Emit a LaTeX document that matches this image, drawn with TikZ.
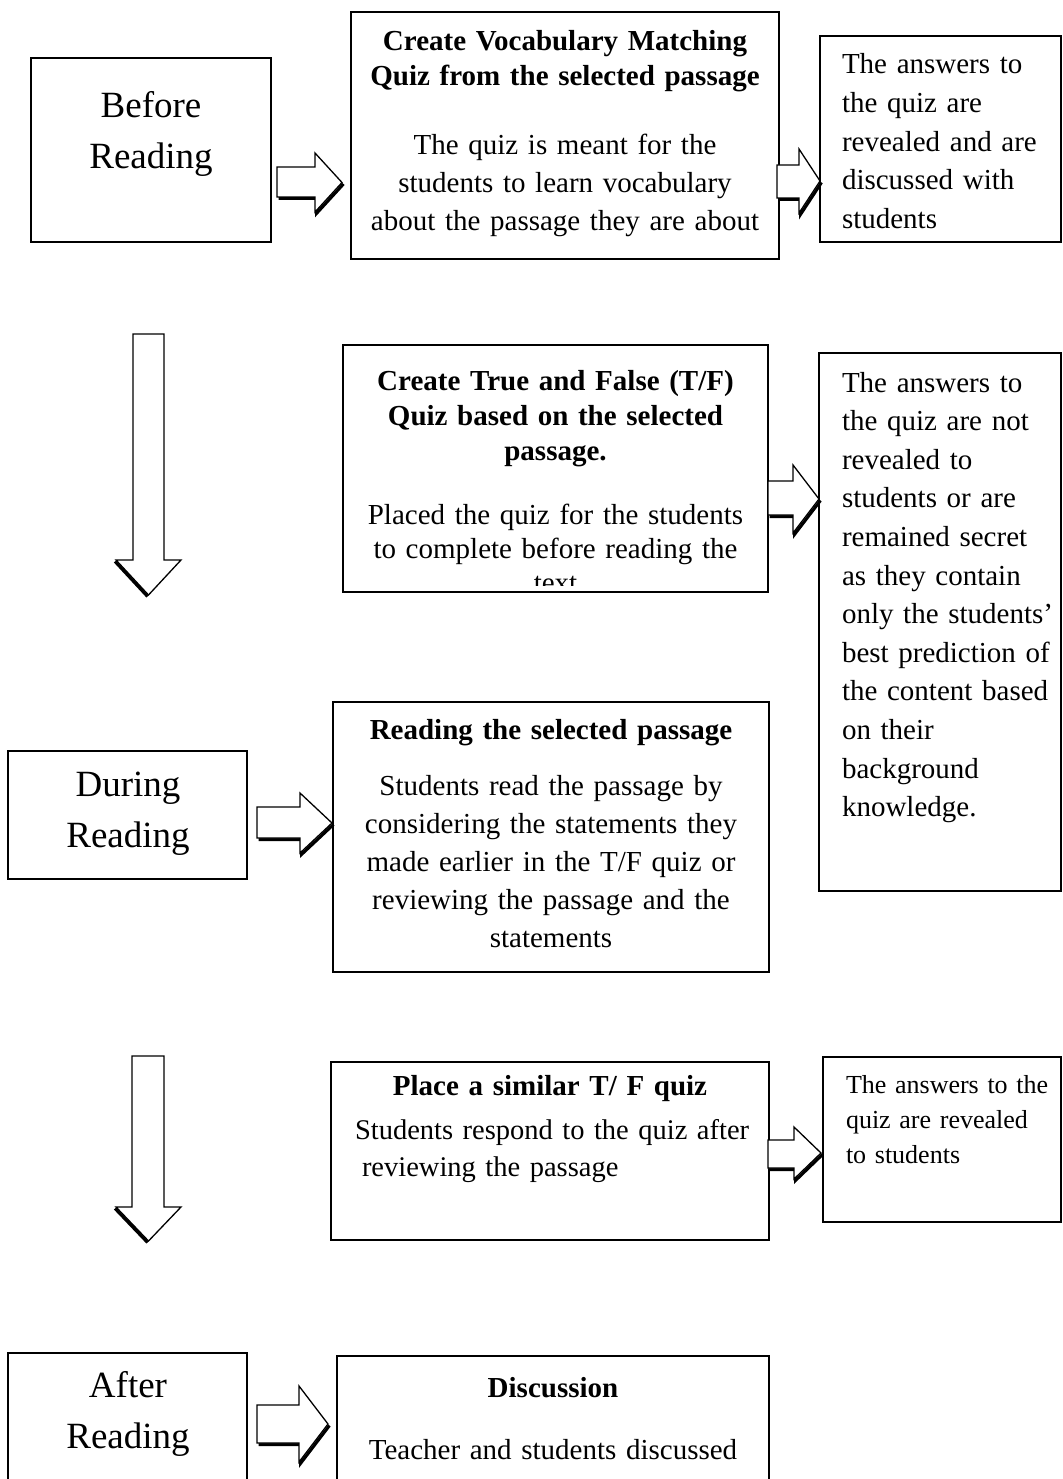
\documentclass[tikz,border=0pt]{standalone}
\usepackage{fontspec}
\setmainfont{Liberation Serif}
\tikzset{
  box/.style={draw, line width=1.6pt, inner sep=0pt, outer sep=0pt},
  ctxt/.style={inner sep=0pt, outer sep=0pt, align=center, anchor=base, font=\fontsize{29pt}{38pt}\selectfont},
  ltxt/.style={inner sep=0pt, outer sep=0pt, align=left, anchor=base west, font=\fontsize{29pt}{38.6pt}\selectfont},
  bigtxt/.style={inner sep=0pt, outer sep=0pt, align=center, anchor=base, font=\fontsize{37pt}{51pt}\selectfont},
  bld/.style={font=\fontsize{29pt}{35pt}\selectfont\bfseries},
  arrline/.style={line width=1.3pt, fill=white, line join=miter},
  shadowline/.style={line width=3pt}
}
% right block arrow: x0 x1 xtip yshaftTop yshaftBot yheadTop yheadBot
\newcommand\rblock[7]{%
  \pgfmathsetmacro\ymidarr{(#6+#7)/2}
  \draw[shadowline, shift={(1.5,1.5)}] (#1,#5) -- (#2,#5) -- (#2,#7) -- (#3,\ymidarr);
  \draw[arrline] (#1,#4) -- (#2,#4) -- (#2,#6) -- (#3,\ymidarr) -- (#2,#7) -- (#2,#5) -- (#1,#5) -- cycle;
}
% down block arrow: xl xr xhl xhr ytop yheadstart ytip
\newcommand\dblock[7]{%
  \pgfmathsetmacro\xmidarr{(#3+#4)/2}
  \draw[shadowline, shift={(-1,1.5)}] (#3,#6) -- (\xmidarr,#7);
  \draw[arrline] (#1,#5) -- (#2,#5) -- (#2,#6) -- (#4,#6) -- (\xmidarr,#7) -- (#3,#6) -- (#1,#6) -- cycle;
}
\begin{document}
\begin{tikzpicture}[x=1pt, y=-1pt]
\clip (0,0) rectangle (1062,1479);
\fill[white] (0,0) rectangle (1062,1479);

% ---------- boxes ----------
\node[box, minimum width=240pt, minimum height=184pt] (before) at (151,150) {};
\node[box, minimum width=428pt, minimum height=247pt] (vocab) at (565,135.5) {};
\node[box, minimum width=241pt, minimum height=206pt] (ans1) at (940.5,139) {};
\node[box, minimum width=242pt, minimum height=538pt] (ans2) at (940,622) {};
\node[box, minimum width=239pt, minimum height=128pt] (during) at (127.5,815) {};
\node[box, minimum width=436pt, minimum height=270pt] (read) at (551,837) {};
\node[box, minimum width=438pt, minimum height=178pt] (place) at (550,1151) {};
\node[box, minimum width=238pt, minimum height=165pt] (ans3) at (942,1139.5) {};
\node[box, minimum width=239pt, minimum height=140pt] (after) at (127.5,1423) {};
\node[box, minimum width=432pt, minimum height=140pt] (disc) at (553,1426) {};

% T/F box with clipped text
\begin{scope}
  \clip (343,345) rectangle (768,585);
  \node[ctxt, bld, text width=420pt] (tfh) at (555.5,390) {Create True and False (T/F)\\Quiz based on the selected\\passage.};
  \node[ctxt, text width=420pt, font=\fontsize{29pt}{34pt}\selectfont] (tfb) at (555.5,524) {Placed the quiz for the students\\to complete before reading the\\text};
\end{scope}
\node[box, minimum width=425pt, minimum height=247pt] (tf) at (555.5,468.5) {};

% ---------- texts ----------
\node[bigtxt, text width=230pt] (beforet) at (151,118) {Before\\Reading};
\node[ctxt, bld, text width=420pt] (vocabh) at (565,51) {Create Vocabulary Matching\\Quiz from the selected passage};
\node[ctxt, text width=420pt] (vocabb) at (565,155) {The quiz is meant for the\\students to learn vocabulary\\about the passage they are about};
\node[ltxt, text width=215pt] (ans1t) at (842,74) {The answers to\\the quiz are\\revealed and are\\discussed with\\students};
\node[ltxt, text width=215pt] (ans2t) at (842,392) {The answers to\\the quiz are not\\revealed to\\students or are\\remained secret\\as they contain\\only the students’\\best prediction of\\the content based\\on their\\background\\knowledge.};
\node[bigtxt, text width=230pt] (duringt) at (128,796) {During\\Reading};
\node[ctxt, bld, text width=430pt] (readh) at (551,739) {Reading the selected passage};
\node[ctxt, text width=430pt] (readb) at (551,795) {Students read the passage by\\considering the statements they\\made earlier in the T/F quiz or\\reviewing the passage and the\\statements};
\node[ctxt, bld, text width=430pt] (placeh) at (550,1095) {Place a similar T/ F quiz};
\node[ltxt, text width=420pt, font=\fontsize{28.5pt}{37pt}\selectfont] (placeb1) at (355,1139) {Students respond to the quiz after};
\node[ltxt, text width=420pt, font=\fontsize{28.5pt}{37pt}\selectfont] (placeb2) at (362,1176) {reviewing the passage};
\node[ltxt, text width=215pt, font=\fontsize{26pt}{35pt}\selectfont] (ans3t) at (846,1093) {The answers to the\\quiz are revealed\\to students};
\node[bigtxt, text width=230pt] (aftert) at (128,1397) {After\\Reading};
\node[ctxt, bld, text width=420pt] (disch) at (553,1397) {Discussion};
\node[ctxt, text width=420pt] (discb) at (553,1459) {Teacher and students discussed};

% ---------- block arrows ----------
\rblock{277}{315}{342}{167}{197}{153}{212}
\rblock{777}{799}{820}{165}{198}{149}{213}
\rblock{768}{793}{819}{481}{515}{465}{533}
\rblock{257}{300}{332}{807}{838}{793}{853}
\rblock{768}{794}{821}{1140}{1168}{1127}{1179}
\rblock{257}{299}{328}{1405}{1443}{1386}{1462}
\dblock{133}{164}{116}{181}{334}{560}{595}
\dblock{132}{164}{116}{181}{1056}{1207}{1241}
\end{tikzpicture}
\end{document}
